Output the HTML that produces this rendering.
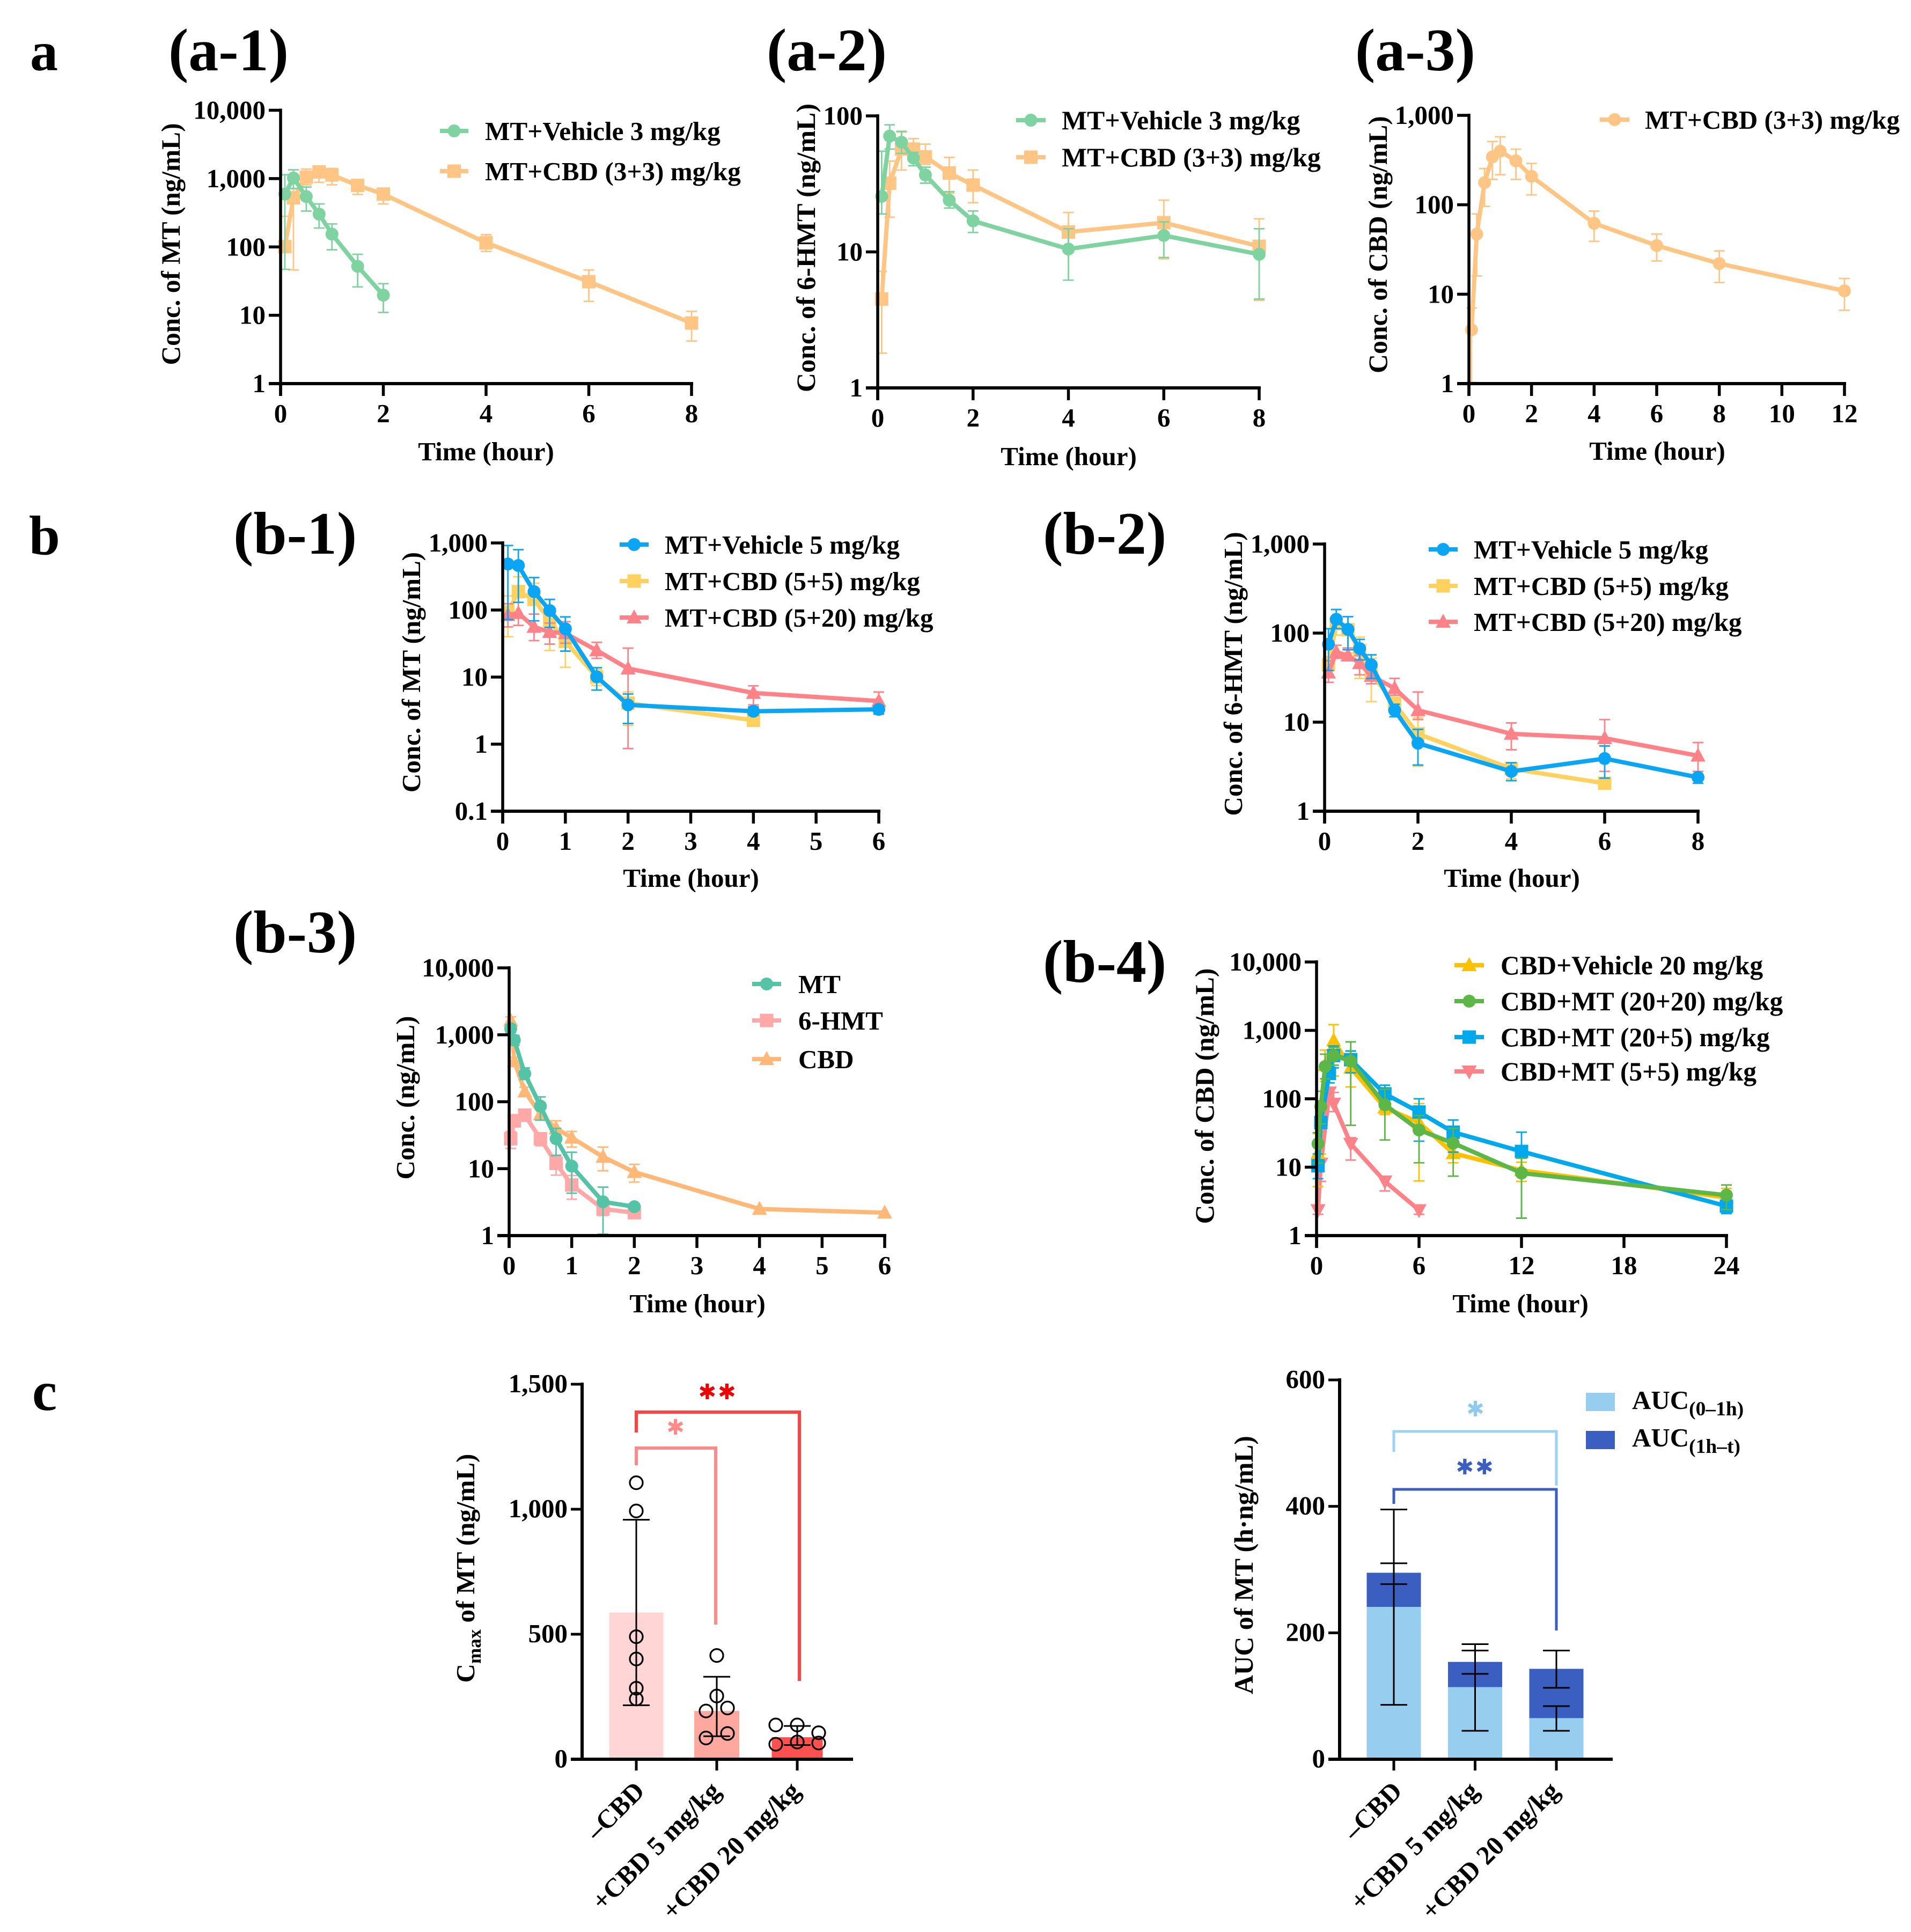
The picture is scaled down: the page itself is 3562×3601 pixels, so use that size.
<!DOCTYPE html>
<html lang="en">
<head>
<meta charset="utf-8">
<title>Pharmacokinetic panels</title>
<style>
html,body{margin:0;padding:0;background:#fff;}
svg{display:block;}
text{font-family:"Liberation Serif","DejaVu Serif",serif;font-weight:bold;fill:#000;}
.star{font-family:"DejaVu Sans",sans-serif;font-weight:bold;}
</style>
</head>
<body>
<svg id="figure" xmlns="http://www.w3.org/2000/svg" width="3562" height="3601" viewBox="0 0 3562 3601">
<rect width="3562" height="3601" fill="#fff"/>

<text x="56" y="131" font-size="104">a</text>
<text x="54" y="1033" font-size="104">b</text>
<text x="60" y="2628" font-size="104">c</text>

<text x="314" y="131" font-size="112">(a-1)</text>
<text x="1429" y="131" font-size="112">(a-2)</text>
<text x="2526" y="131" font-size="112">(a-3)</text>
<text x="435" y="1032" font-size="112">(b-1)</text>
<text x="1944" y="1032" font-size="112">(b-2)</text>
<text x="435" y="1775" font-size="112">(b-3)</text>
<text x="1944" y="1830" font-size="112">(b-4)</text>

<text font-size="49.3" text-anchor="middle" transform="translate(335,455) rotate(-90)">Conc. of MT (ng/mL)</text>
<text font-size="50" text-anchor="middle" transform="translate(1519,462) rotate(-90)">Conc. of 6-HMT (ng/mL)</text>
<text font-size="49.6" text-anchor="middle" transform="translate(2585,456) rotate(-90)">Conc. of CBD (ng/mL)</text>
<text font-size="49" text-anchor="middle" transform="translate(783,1253) rotate(-90)">Conc. of MT (ng/mL)</text>
<text font-size="49.2" text-anchor="middle" transform="translate(2315,1256) rotate(-90)">Conc. of 6-HMT (ng/mL)</text>
<text font-size="49" text-anchor="middle" transform="translate(772,2046) rotate(-90)">Conc. (ng/mL)</text>
<text font-size="49.3" text-anchor="middle" transform="translate(2262,2043) rotate(-90)">Conc. of CBD (ng/mL)</text>

<text font-size="49" text-anchor="middle" x="906" y="858">Time (hour)</text>
<text font-size="49" text-anchor="middle" x="1992" y="867">Time (hour)</text>
<text font-size="49" text-anchor="middle" x="3089" y="857">Time (hour)</text>
<text font-size="49" text-anchor="middle" x="1288" y="1653">Time (hour)</text>
<text font-size="49" text-anchor="middle" x="2818" y="1653">Time (hour)</text>
<text font-size="49" text-anchor="middle" x="1300" y="2446">Time (hour)</text>
<text font-size="49" text-anchor="middle" x="2834" y="2446">Time (hour)</text>

<text font-size="49" text-anchor="middle" transform="translate(884,2923) rotate(-90)">C<tspan font-size="35" dy="12">max</tspan><tspan dy="-12"> of MT (ng/mL)</tspan></text>
<text font-size="49.5" text-anchor="middle" transform="translate(2335,2917) rotate(-90)">AUC of MT (h·ng/mL)</text>

<path d="M1186 2670V2632H1490V3133" fill="none" stroke="#FF4343" stroke-width="6"/>
<path d="M1186 2731V2699H1334V3028" fill="none" stroke="#FF8A8A" stroke-width="6"/>
<text class="star" x="1338" y="2608" font-size="40" text-anchor="middle" letter-spacing="3" style="fill:#F00000">✱✱</text>
<text class="star" x="1259" y="2674" font-size="40" text-anchor="middle" style="fill:#FF8A8A">✱</text>

<path d="M2598 2706V2668H2901V2769" fill="none" stroke="#9BD3F0" stroke-width="5"/>
<path d="M2598 2803V2776H2901V3039" fill="none" stroke="#3A5FC0" stroke-width="5"/>
<text class="star" x="2750" y="2640" font-size="40" text-anchor="middle" style="fill:#8FCBEE">✱</text>
<text class="star" x="2750" y="2748" font-size="40" text-anchor="middle" letter-spacing="3" style="fill:#3A5FC0">✱✱</text>

<rect x="2956" y="2596" width="54" height="34" fill="#97CEEF"/>
<text x="3042" y="2626" font-size="49">AUC<tspan font-size="37.5" dy="12">(0–1h)</tspan></text>
<rect x="2956" y="2667" width="54" height="34" fill="#3A5FC0"/>
<text x="3042" y="2696" font-size="49">AUC<tspan font-size="37.5" dy="12">(1h–t)</tspan></text>
</svg>

<script>
/* ---------- panel a-1 ---------- */
const a1VehTime=[0.083,0.25,0.5,0.75,1,1.5,2];
const a1VehMean=[593,1018,546,302,154,52,19.7];
const a1VehHi=[1140,1345,753,426,217,78,29];
const a1VehLo=[47,716,335,189,91,26,11];
const a1CbdTime=[0.083,0.25,0.5,0.75,1,1.5,2,4,6,8];
const a1CbdMean=[101,524,1050,1253,1130,794,593,115,31,7.7];
const a1CbdHi=[281,716,1377,1435,1406,947,687,151,46,11.4];
const a1CbdLo=[101,46,810,881,811,587,426,86,16,4.2];
const a1XTicks=[0,2,4,6,8];
const a1YTicks=[1,10,100,1000,10000];
const a1YLabels=["1","10","100","1,000","10,000"];

/* ---------- panel a-2 ---------- */
const a2Time=[0.083,0.25,0.5,0.75,1,1.5,2,4,6,8];
const a2VehMean=[25.6,71,64,49,36.8,24,16.9,10.5,13.2,9.6];
const a2VehHi=[55,86,77,54,42,27.7,20,14.8,16.6,14.8];
const a2VehLo=[19,57,53,43,32,21,13.9,6.2,9.1,4.5];
const a2CbdMean=[4.5,32,57,57,50,38,31,14,16.4,11];
const a2CbdHi=[7.2,46.5,76,68,62,49.5,40,19.5,24,17.5];
const a2CbdLo=[1.8,18,40,50,44,27,23,12.7,8.9,4.4];
const a2XTicks=[0,2,4,6,8];
const a2YTicks=[1,10,100];
const a2YLabels=["1","10","100"];

/* ---------- panel a-3 ---------- */
const a3Time=[0.083,0.25,0.5,0.75,1,1.5,2,4,6,8,12];
const a3CbdMean=[4,47,177,343,398,310,208,62,35,22,10.9];
const a3CbdHi=[7,79,254,510,575,418,290,85,47,30.5,15];
const a3CbdLo=[1.03,16,96,192,217,192,129,39,23.5,13.5,6.6];
const a3XTicks=[0,2,4,6,8,10,12];
const a3YTicks=[1,10,100,1000];
const a3YLabels=["1","10","100","1,000"];

/* ---------- panel b-1 ---------- */
const b1VehTime=[0.083,0.25,0.5,0.75,1,1.5,2,4,6];
const b1VehMean=[486,461,188,98,52.5,10.1,3.85,3.09,3.3];
const b1VehHi=[916,794,305,144,79,13.8,5.6,3.6,3.7];
const b1VehLo=[72,130,69,55,24.4,6.4,2.03,2.7,2.8];
const b1Cbd5Time=[0.083,0.25,0.5,0.75,1,1.5,2,4];
const b1Cbd5Mean=[93,188,144,70,34,10,4.1,2.27];
const b1Cbd5Hi=[162,313,251,104,49,13,6,2.7];
const b1Cbd5Lo=[40,80,47,25,14,7.5,1.9,2];
const b1Cbd20Time=[0.083,0.25,0.5,0.75,1,1.5,2,4,6];
const b1Cbd20Mean=[84,90,56,47,45,25,13.4,5.8,4.4];
const b1Cbd20Hi=[124,130,87,64,67,33,27,7.4,6];
const b1Cbd20Lo=[56,59,35,31,32,19,0.86,3.85,2.83];
const b1XTicks=[0,1,2,3,4,5,6];
const b1YTicks=[0.1,1,10,100,1000];
const b1YLabels=["0.1","1","10","100","1,000"];

/* ---------- panel b-2 ---------- */
const b2Time=[0.083,0.25,0.5,0.75,1,1.5,2,4,6,8];
const b2VehMean=[75,143,110,67,44,13.6,5.8,2.8,3.9,2.4];
const b2VehHi=[112,184,153,85,57,15.9,8.3,3.5,5.4,2.6];
const b2VehLo=[38,112,65,50,31,11.5,3.3,2.2,2.35,2.06];
const b2Cbd5Time=[0.083,0.25,0.5,0.75,1,1.5,2,4,6];
const b2Cbd5Mean=[44,128,109,64,35,16,7.4,3,2.06];
const b2Cbd5Hi=[54,151,120,90,52,19,11.2,3.4,2.4];
const b2Cbd5Lo=[33,95,60,31,17,13,3.2,2.3,1.9];
const b2Cbd20Mean=[36,61,56,46,33,24,13.6,7.4,6.6,4.2];
const b2Cbd20Hi=[49,73,68,56,35,31,21.8,9.8,10.7,5.9];
const b2Cbd20Lo=[28,52,49,34,27,20,10.7,4.9,2.8,2.8];
const b2XTicks=[0,2,4,6,8];
const b2YTicks=[1,10,100,1000];
const b2YLabels=["1","10","100","1,000"];

/* ---------- panel b-3 ---------- */
const b3MtTime=[0.025,0.083,0.25,0.5,0.75,1,1.5,2];
const b3MtMean=[1239,834,262,86,28,10.9,3.2,2.7];
const b3MtHi=[1420,980,320,118,40,17.6,5.3,3];
const b3MtLo=[1080,700,215,53,15.6,4.3,1.05,2.4];
const b3HmtMean=[28,52,63,28,12,5.7,2.5,2.2];
const b3HmtHi=[36,64,76,33,16,7.9,2.9,2.4];
const b3HmtLo=[20,42,53,22,8,3.5,2,2];
const b3CbdTime=[0.025,0.083,0.25,0.5,0.75,1,1.5,2,4,6];
const b3CbdMean=[1640,401,142,65,40,29,15,8.9,2.5,2.2];
const b3CbdHi=[1857,460,165,81,52,36,21,11.6,2.5,2.2];
const b3CbdLo=[1300,350,120,55,33,21,9.3,6.3,2.5,2.2];
const b3XTicks=[0,1,2,3,4,5,6];
const b3YTicks=[1,10,100,1000,10000];
const b3YLabels=["1","10","100","1,000","10,000"];

/* ---------- panel b-4 ---------- */
const b4VehTime=[0.083,0.25,0.5,1,2,4,6,8,12,24];
const b4VehMean=[16,49,310,711,283,74,45,16,9,3.6];
const b4VehHi=[31,94,515,1213,492,135,85,37,11.8,4.9];
const b4VehLo=[5.2,15.6,179,215,149,59,6.3,11.6,6.2,2.5];
const b4Mt20Mean=[22,77,296,429,356,82,35,22.5,8.2,3.9];
const b4Mt20Hi=[32,129,449,565,679,138,57,37,13.5,5.5];
const b4Mt20Lo=[11.5,43,196,310,41,25,11.6,7.4,1.8,2.4];
const b4Mt5Time=[0.083,0.25,0.75,1,2,4,6,8,12,24];
const b4Mt5Mean=[10.5,45,235,429,373,118,64,32.5,17,2.7];
const b4Mt5Hi=[15.6,85,283,592,501,158,100,49,32.5,3.1];
const b4Mt5Lo=[6.8,41,171,283,240,90,24,16.6,1.8,2.1];
const b4LowTime=[0.083,0.25,0.75,1,2,4,6];
const b4LowMean=[2.36,11.3,124,85,22,6.2,2.36];
const b4LowHi=[2.7,13,135,124,27,7.1,2.7];
const b4LowLo=[2.05,6.2,85,65,12.7,4.5,2.05];
const b4XTicks=[0,6,12,18,24];
const b4YTicks=[1,10,100,1000,10000];
const b4YLabels=["1","10","100","1,000","10,000"];

/* ---------- panel c: Cmax ---------- */
const cGroups=["–CBD","+CBD 5 mg/kg","+CBD 20 mg/kg"];
const cmaxMeans=[587,193,88];
const cmaxHi=[958,330,133];
const cmaxLo=[216,92,57];
const cmaxPointsG1=[1106,993,490,401,284,241];
const cmaxPointsG2=[415,253,205,193,103,85];
const cmaxPointsG3=[137,137,106,65,60,69];
const cmaxJitterG1=[0,0,0,0,0,0];
const cmaxJitterG2=[0,0,1,-1,1,-1];
const cmaxJitterG3=[-2,0,2,2,-2,0];
const cmaxYTicks=[0,500,1000,1500];
const cmaxYLabels=["0","500","1,000","1,500"];

/* ---------- panel c: AUC ---------- */
const aucEarly=[241,114,65];
const aucTotal=[295,154,143];
const aucEarlyHi=[395,182,84];
const aucEarlyLo=[86,45,45];
const aucTotalHi=[310,172,172];
const aucTotalLo=[277,135,113];
const aucYTicks=[0,200,400,600];
const aucYLabels=["0","200","400","600"];

const NS='http://www.w3.org/2000/svg';
const root=document.getElementById('figure');

function mk(parent,tag,props){
  const el=document.createElementNS(NS,tag);
  for(const k in props){el.setAttribute(k,props[k]);}
  parent.appendChild(el);
  return el;
}
function seg(parent,x1,y1,x2,y2,color,w,name){
  const el=mk(parent,'line',{x1:x1,y1:y1,x2:x2,y2:y2,stroke:color,'stroke-width':w});
  
  
  return el;
}
function label(parent,x,y,s,size,anchor,name){
  const el=mk(parent,'text',{x:x,y:y,'font-size':size,'text-anchor':anchor});
  el.textContent=s;
  
  
  return el;
}
function marker(parent,shape,x,y,color,name){
  let el;
  if(shape==='circle'){
    el=mk(parent,'circle',{cx:x,cy:y,r:12,fill:color});
  }else if(shape==='square'){
    el=mk(parent,'rect',{x:x-12.5,y:y-12.5,width:25,height:25,fill:color});
  }else if(shape==='up'){
    el=mk(parent,'polygon',{points:[x,y-15,x+14,y+11,x-14,y+11].join(' '),fill:color});
  }else{
    el=mk(parent,'polygon',{points:[x,y+15,x+14,y-11,x-14,y-11].join(' '),fill:color});
  }
  
  
  return el;
}

function drawPanel(c){
  const g=mk(root,'g',{});
  
  
  const xS=t=>c.x0+t/c.xMax*(c.x1-c.x0);
  const lmin=Math.log10(c.yMin),lmax=Math.log10(c.yMax);
  const yS=v=>c.yB-(Math.log10(v)-lmin)/(lmax-lmin)*(c.yB-c.yT);

  c.drawOrder.forEach(function(i){
    const s=c.series[i];
    const sg=mk(g,'g',{});
    
    
    s.t.forEach(function(t,j){
      const x=xS(t);
      const yh=yS(s.hi[j]),yl=yS(s.lo[j]);
      if(s.hi[j]!==s.lo[j]){
        seg(sg,x,yh,x,yl,s.color,2.8,'error-bar');
        seg(sg,x-10,yh,x+10,yh,s.color,2.8,'error-cap-upper');
        seg(sg,x-10,yl,x+10,yl,s.color,2.8,'error-cap-lower');
      }
    });
    const pts=s.t.map((t,j)=>xS(t)+','+yS(s.y[j])).join(' ');
    const pl=mk(sg,'polyline',{points:pts,fill:'none',stroke:s.color,'stroke-width':8,'stroke-linejoin':'round'});
    
    
    s.t.forEach(function(t,j){
      marker(sg,s.shape,xS(t),yS(s.y[j]),s.color,'data-point');
    });
  });

  seg(g,c.x0,c.yT-3,c.x0,c.yB+23,'#000',5.5,'y-axis-line');
  seg(g,c.x0-22,c.yB,c.x1+3,c.yB,'#000',6,'x-axis-line');
  c.xTicks.forEach(function(t){
    seg(g,xS(t),c.yB,xS(t),c.yB+23,'#000',5.5,'x-tick');
    label(g,xS(t),c.yB+72,String(t),49,'middle','x-tick-label');
  });
  c.yTicks.forEach(function(v,i){
    seg(g,c.x0-22,yS(v),c.x0,yS(v),'#000',5.5,'y-tick');
    label(g,c.x0-28,yS(v)+16,c.yLabels[i],49,'end','y-tick-label');
  });

  c.series.forEach(function(s,i){
    const ly=c.legY[i];
    const lg=mk(g,'g',{});
    
    
    seg(lg,c.legX1,ly,c.legX2,ly,s.color,8,'legend-line');
    marker(lg,s.shape,(c.legX1+c.legX2)/2,ly,s.color,'legend-marker');
    label(lg,c.legText,ly+17,s.name,c.legFont,'start','legend-label');
  });
}

const GREEN_A='#7FD3A0',ORANGE_A='#FFC585',BLUE_B='#0AA5F5',YELLOW_B='#FFD25F',RED_B='#FF8289';

drawPanel({key:'a1',x0:523,x1:1289,xMax:8,yT:205.5,yB:715,yMin:1,yMax:10000,
  xTicks:a1XTicks,yTicks:a1YTicks,yLabels:a1YLabels,drawOrder:[1,0],
  legX1:820,legX2:873,legText:904,legY:[244,319],legFont:49.2,
  series:[
    {id:'mt-vehicle-3',name:'MT+Vehicle 3 mg/kg',t:a1VehTime,y:a1VehMean,hi:a1VehHi,lo:a1VehLo,color:GREEN_A,shape:'circle'},
    {id:'mt-cbd-3-3',name:'MT+CBD (3+3) mg/kg',t:a1CbdTime,y:a1CbdMean,hi:a1CbdHi,lo:a1CbdLo,color:ORANGE_A,shape:'square'}
  ]});

drawPanel({key:'a2',x0:1636,x1:2347,xMax:8,yT:216,yB:723,yMin:1,yMax:100,
  xTicks:a2XTicks,yTicks:a2YTicks,yLabels:a2YLabels,drawOrder:[1,0],
  legX1:1894,legX2:1949,legText:1979,legY:[224,293],legFont:49.8,
  series:[
    {id:'hmt-vehicle-3',name:'MT+Vehicle 3 mg/kg',t:a2Time,y:a2VehMean,hi:a2VehHi,lo:a2VehLo,color:GREEN_A,shape:'circle'},
    {id:'hmt-cbd-3-3',name:'MT+CBD (3+3) mg/kg',t:a2Time,y:a2CbdMean,hi:a2CbdHi,lo:a2CbdLo,color:ORANGE_A,shape:'square'}
  ]});

drawPanel({key:'a3',x0:2738,x1:3438,xMax:12,yT:215,yB:715,yMin:1,yMax:1000,
  xTicks:a3XTicks,yTicks:a3YTicks,yLabels:a3YLabels,drawOrder:[0],
  legX1:2982,legX2:3037,legText:3066,legY:[223],legFont:49,
  series:[
    {id:'cbd-3-3',name:'MT+CBD (3+3) mg/kg',t:a3Time,y:a3CbdMean,hi:a3CbdHi,lo:a3CbdLo,color:ORANGE_A,shape:'circle'}
  ]});

drawPanel({key:'b1',x0:937,x1:1638,xMax:6,yT:1012,yB:1512,yMin:0.1,yMax:1000,
  xTicks:b1XTicks,yTicks:b1YTicks,yLabels:b1YLabels,drawOrder:[1,2,0],
  legX1:1155,legX2:1209,legText:1239,legY:[1015,1083,1151],legFont:49.1,
  series:[
    {id:'mt-vehicle-5',name:'MT+Vehicle 5 mg/kg',t:b1VehTime,y:b1VehMean,hi:b1VehHi,lo:b1VehLo,color:BLUE_B,shape:'circle'},
    {id:'mt-cbd-5-5',name:'MT+CBD (5+5) mg/kg',t:b1Cbd5Time,y:b1Cbd5Mean,hi:b1Cbd5Hi,lo:b1Cbd5Lo,color:YELLOW_B,shape:'square'},
    {id:'mt-cbd-5-20',name:'MT+CBD (5+20) mg/kg',t:b1Cbd20Time,y:b1Cbd20Mean,hi:b1Cbd20Hi,lo:b1Cbd20Lo,color:RED_B,shape:'up'}
  ]});

drawPanel({key:'b2',x0:2469,x1:3165,xMax:8,yT:1014,yB:1512,yMin:1,yMax:1000,
  xTicks:b2XTicks,yTicks:b2YTicks,yLabels:b2YLabels,drawOrder:[1,2,0],
  legX1:2663,legX2:2717,legText:2747,legY:[1024,1092,1159],legFont:49,
  series:[
    {id:'hmt-vehicle-5',name:'MT+Vehicle 5 mg/kg',t:b2Time,y:b2VehMean,hi:b2VehHi,lo:b2VehLo,color:BLUE_B,shape:'circle'},
    {id:'hmt-cbd-5-5',name:'MT+CBD (5+5) mg/kg',t:b2Cbd5Time,y:b2Cbd5Mean,hi:b2Cbd5Hi,lo:b2Cbd5Lo,color:YELLOW_B,shape:'square'},
    {id:'hmt-cbd-5-20',name:'MT+CBD (5+20) mg/kg',t:b2Time,y:b2Cbd20Mean,hi:b2Cbd20Hi,lo:b2Cbd20Lo,color:RED_B,shape:'up'}
  ]});

drawPanel({key:'b3',x0:949,x1:1649,xMax:6,yT:1804,yB:2303,yMin:1,yMax:10000,
  xTicks:b3XTicks,yTicks:b3YTicks,yLabels:b3YLabels,drawOrder:[2,1,0],
  legX1:1402,legX2:1456,legText:1488,legY:[1834,1902,1974],legFont:49,
  series:[
    {id:'mt',name:'MT',t:b3MtTime,y:b3MtMean,hi:b3MtHi,lo:b3MtLo,color:'#55C3A5',shape:'circle'},
    {id:'hmt',name:'6-HMT',t:b3MtTime,y:b3HmtMean,hi:b3HmtHi,lo:b3HmtLo,color:'#FFA8A8',shape:'square'},
    {id:'cbd',name:'CBD',t:b3CbdTime,y:b3CbdMean,hi:b3CbdHi,lo:b3CbdLo,color:'#FFB877',shape:'up'}
  ]});

drawPanel({key:'b4',x0:2454,x1:3218,xMax:24,yT:1793,yB:2303,yMin:1,yMax:10000,
  xTicks:b4XTicks,yTicks:b4YTicks,yLabels:b4YLabels,drawOrder:[3,0,2,1],
  legX1:2711,legX2:2766,legText:2797,legY:[1799,1866,1933,1997],legFont:49.3,
  series:[
    {id:'cbd-vehicle-20',name:'CBD+Vehicle 20 mg/kg',t:b4VehTime,y:b4VehMean,hi:b4VehHi,lo:b4VehLo,color:'#FFC000',shape:'up'},
    {id:'cbd-mt-20-20',name:'CBD+MT (20+20) mg/kg',t:b4VehTime,y:b4Mt20Mean,hi:b4Mt20Hi,lo:b4Mt20Lo,color:'#5DB648',shape:'circle'},
    {id:'cbd-mt-20-5',name:'CBD+MT (20+5) mg/kg',t:b4Mt5Time,y:b4Mt5Mean,hi:b4Mt5Hi,lo:b4Mt5Lo,color:'#00A8EC',shape:'square'},
    {id:'cbd-mt-5-5',name:'CBD+MT (5+5) mg/kg',t:b4LowTime,y:b4LowMean,hi:b4LowHi,lo:b4LowLo,color:RED_B,shape:'down'}
  ]});

function barAxes(g,c){
  seg(g,c.x0,c.yT-3,c.x0,c.yB+3,'#000',6,'y-axis-line');
  seg(g,c.x0-21,c.yB,c.xEnd,c.yB,'#000',6,'x-axis-line');
  c.yTicks.forEach(function(v,i){
    seg(g,c.x0-21,c.y(v),c.x0,c.y(v),'#000',5,'y-tick');
    label(g,c.x0-27,c.y(v)+15,c.yLabels[i],49,'end','y-tick-label');
  });
  cGroups.forEach(function(name,i){
    const x=c.cat(i);
    seg(g,x,c.yB,x,c.yB+21,'#000',5,'x-tick');
    const t=label(g,0,0,name,49.5,'end','x-tick-label');
    const dx=i===0?18:11-i*1.5;
    t.setAttribute('transform','translate('+(x+dx)+','+(c.yB+62)+') rotate(-45)');
  });
}
function errBar(g,x,hi,lo,half,name){
  seg(g,x,hi,x,lo,'#000',3,name);
  seg(g,x-half,hi,x+half,hi,'#000',3,name+'-cap-upper');
  seg(g,x-half,lo,x+half,lo,'#000',3,name+'-cap-lower');
}

(function(){
  const g=mk(root,'g',{});
  
  
  const yT=2580,yB=3279,yMax=1500;
  const y=v=>yB-v/yMax*(yB-yT);
  const cat=i=>1186+i*150;
  const widths=[101,84,95];
  const fills=['#FFD5D5','#FFA8A0','#FF5050'];
  const names=['bar-no-cbd','bar-cbd-5','bar-cbd-20'];
  cmaxMeans.forEach(function(v,i){
    const r=mk(g,'rect',{x:cat(i)-widths[i]/2,y:y(v),width:widths[i],height:yB-y(v),fill:fills[i]});
    
    
  });
  cmaxMeans.forEach(function(v,i){
    errBar(g,cat(i),y(cmaxHi[i]),y(cmaxLo[i]),25,'error-bar');
  });
  [[cmaxPointsG1,cmaxJitterG1],[cmaxPointsG2,cmaxJitterG2],[cmaxPointsG3,cmaxJitterG3]].forEach(function(pair,i){
    pair[0].forEach(function(v,j){
      const c=mk(g,'circle',{cx:cat(i)+pair[1][j]*20,cy:y(v),r:12,fill:'none',stroke:'#000','stroke-width':3.2});
      
      
    });
  });
  barAxes(g,{x0:1085,xEnd:1590,yT:yT,yB:yB,y:y,cat:cat,yTicks:cmaxYTicks,yLabels:cmaxYLabels});
})();

(function(){
  const g=mk(root,'g',{});
  
  
  const yT=2572,yB=3279,yMax=600;
  const y=v=>yB-v/yMax*(yB-yT);
  const cat=i=>2598+i*151.5;
  const w=101;
  aucEarly.forEach(function(v,i){
    const top=mk(g,'rect',{x:cat(i)-w/2,y:y(aucTotal[i]),width:w,height:y(v)-y(aucTotal[i]),fill:'#3A5FC0'});
    
    
    const low=mk(g,'rect',{x:cat(i)-w/2,y:y(v),width:w,height:yB-y(v),fill:'#97CEEF'});
    
    
  });
  aucEarly.forEach(function(v,i){
    errBar(g,cat(i),y(aucEarlyHi[i]),y(aucEarlyLo[i]),25,'error-bar-early');
    errBar(g,cat(i),y(aucTotalHi[i]),y(aucTotalLo[i]),25,'error-bar-late');
  });
  barAxes(g,{x0:2497,xEnd:3006,yT:yT,yB:yB,y:y,cat:cat,yTicks:aucYTicks,yLabels:aucYLabels});
})();
</script>
</body>
</html>
